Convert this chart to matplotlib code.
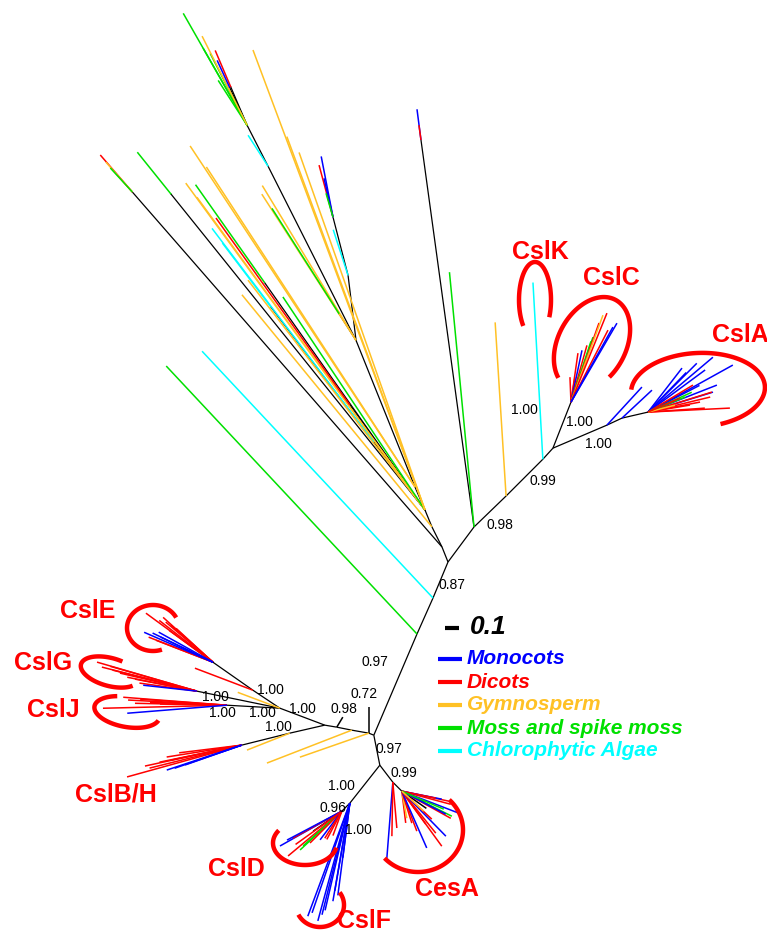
import numpy as np
import matplotlib.pyplot as plt

W, H = 767, 933

COLORS = {'mono': '#0000FF', 'dicot': '#FF0000', 'gymno': '#FFC125',
          'moss': '#00E000', 'algae': '#00FFFF', 'none': 'black'}

LEGEND_NAMES = ['Monocots', 'Dicots', 'Gymnosperm', 'Moss and spike moss',
                'Chlorophytic Algae']
LEGEND_KEYS = ['mono', 'dicot', 'gymno', 'moss', 'algae']

# internal branches: (node, parent, angle in degrees, length; 0.1 = 14 units)
BRANCHES = [
    ('B', 'A', 53.4, 43.6), ('BC1', 'B', 44.0, 44.6), ('BC2', 'BC1', 45.0, 52.0),
    ('C', 'BC2', 47.7, 15.0), ('K1', 'B', 97.8, 390.6), ('Cc', 'C', 68.6, 49.4),
    ('Ca1', 'C', 23.1, 58.7), ('Ca2', 'Ca1', 25.0, 16.6), ('Ca3', 'Ca2', 13.0, 26.7),
    ('N1', 'A', 247.4, 39.0), ('N2', 'N1', 246.0, 39.4), ('D', 'N2', 246.9, 110.0),
    ('H', 'D', 281.3, 30.6), ('P1', 'D', 158.0, 5.4), ('P2', 'P1', 170.0, 17.3),
    ('P3', 'P2', 168.7, 15.3), ('E', 'P3', 170.5, 12.2), ('Bm', 'E', 192.9, 35.9),
    ('Bn', 'Bm', 194.0, 49.5), ('F', 'E', 159.3, 48.0), ('G1', 'F', 146.3, 32.4),
    ('Ge', 'G1', 145.0, 48.8), ('Jn', 'F', 176.8, 53.0), ('Gn', 'F', 168.4, 84.7),
    ('Cs', 'H', 307.4, 21.4), ('Cs2', 'Cs', 315.0, 12.7), ('I', 'H', 231.7, 48.4),
    ('Dn', 'I', 225.0, 11.3), ('T1', 'A', 111.8, 16.2), ('LB1', 'T1', 131.1, 471.0),
    ('T2', 'T1', 116.6, 22.4), ('Tm', 'T2', 112.4, 18.4), ('T3', 'Tm', 113.5, 25.0),
    ('N5', 'T3', 111.9, 158.0), ('L3b', 'N5', 116.8, 195.0), ('L3', 'L3b', 117.1, 46.0),
    ('L5a', 'N5', 97.0, 65.5), ('L5', 'L5a', 104.5, 60.0),
]

# leaves: (angle, length, group[, coloured tip length])
CSLK_LEAVES = [(93.2, 177, 'algae')]
CSLC_LEAVES = [(92.3, 25, 'dicot'), (81, 25, 'dicot'), (81.9, 49.5, 'dicot'),
               (78, 53, 'mono'), (74.3, 59, 'dicot'), (71.8, 64, 'moss'),
               (71.3, 68.6, 'moss'), (70.5, 84, 'dicot'), (69.8, 92.7, 'gymno'),
               (68, 96, 'dicot'), (62.8, 81, 'dicot'), (60.8, 86, 'mono'),
               (59.8, 91.4, 'mono')]
CSLA_LEAVES = [(52.3, 55.6, 'mono'), (46, 55, 'mono'), (45, 69, 'mono'),
               (40.2, 85, 'mono'), (36.4, 71, 'mono'), (29, 97, 'mono'),
               (21.4, 74, 'mono'), (17.1, 68, 'mono'), (27.4, 58, 'mono'),
               (31, 52.5, 'dicot'), (17.4, 67, 'dicot'), (13.6, 64, 'dicot'),
               (2.8, 82, 'dicot'), (10.9, 53, 'dicot'), (9.5, 42.6, 'dicot'),
               (4, 57, 'dicot'), (24.4, 48, 'moss'), (22, 40, 'moss'),
               (14.5, 28, 'gymno'), (23.6, 35, 'dicot')]
CSLA_BASE1 = [(47.4, 51.7, 'mono')]
CSLA_BASE2 = [(43, 41, 'mono')]
CSLE_LEAVES = [(143.8, 83, 'dicot'), (142.1, 68, 'dicot'), (138, 67, 'dicot'),
               (139.6, 62, 'dicot'), (138.6, 56, 'dicot'), (137.4, 50, 'dicot'),
               (144, 54, 'dicot'), (158.7, 69, 'dicot'), (158.9, 61, 'dicot'),
               (156.5, 75, 'mono'), (154.2, 67, 'mono'), (154.3, 58, 'mono'),
               (151, 62, 'mono')]
CSLG_LEAVES = [(163.8, 104, 'dicot'), (165.8, 98, 'dicot'), (164, 90, 'dicot'),
               (166, 87, 'dicot'), (166.8, 79, 'dicot'), (168.7, 71, 'dicot'),
               (169, 63, 'dicot'), (172, 58, 'dicot'), (173.7, 54, 'mono')]
CSLJ_LEAVES = [(175.6, 104, 'dicot'), (181.4, 124, 'dicot'), (177, 99, 'dicot'),
               (178.8, 92, 'dicot'), (176, 87, 'dicot'), (177.8, 77, 'dicot'),
               (179, 67, 'dicot'), (184.6, 100, 'mono')]
CSLBH_LEAVES = [(195.5, 119, 'dicot'), (194, 95, 'dicot'), (191.7, 84, 'dicot'),
                (189, 76, 'dicot'), (192, 72, 'dicot'), (192.2, 99, 'dicot'),
                (187, 63, 'dicot'), (198.4, 79, 'mono'), (199, 71, 'mono'),
                (199.3, 60, 'mono')]
CESA_BASE = [(265.5, 76, 'mono'), (269, 54, 'dicot'), (275, 46, 'dicot')]
CESA_LEAVES = [(277, 32, 'dicot'), (280.5, 27.5, 'gymno'), (287.4, 33.5, 'dicot'),
               (290.6, 42.7, 'dicot'), (306, 40.8, 'dicot'), (293.7, 62, 'mono'),
               (309, 54, 'dicot'), (306, 68, 'dicot'), (314.4, 63, 'mono'),
               (331, 56, 'dicot'), (333.4, 56, 'moss'), (338.9, 61, 'mono'),
               (345, 50.7, 'dicot'), (348, 48, 'dicot'), (348.7, 40.8, 'mono'),
               (348.4, 34.7, 'dicot'), (332.4, 49.6, 'mono'), (317, 41, 'dicot'),
               (336.8, 45.7, 'moss'), (317.7, 29.7, 'gymno'), (325, 30, 'none'),
               (335, 25, 'none')]
CSLF_LEAVES = [(249.6, 120.6, 'mono'), (251, 116, 'mono'), (254.8, 122, 'mono'),
               (256, 115, 'mono'), (257, 110, 'mono'), (260.3, 89, 'mono'),
               (262.6, 93, 'mono'), (260.2, 99.5, 'mono'), (262.7, 55, 'mono')]
CSLD_LEAVES = [(209.4, 71, 'mono'), (219.8, 70, 'dicot'), (208.9, 56, 'dicot'),
               (222.9, 57, 'moss'), (221.9, 52, 'moss'), (225, 45, 'dicot'),
               (232.8, 36, 'mono'), (237.8, 32, 'dicot'), (242, 32, 'dicot'),
               (250, 26, 'dicot'), (207.8, 62, 'mono'), (215.7, 57, 'dicot'),
               (215, 35, 'none')]

# unnamed lineages (top fan and singletons)
K1_TIPS = [(97.4, 31, 'mono'), (97.8, 15, 'dicot')]
B_LEAVES = [(95.5, 256, 'moss')]
BC1_LEAVES = [(93.6, 174, 'gymno')]
N1_LEAVES = [(133.1, 338, 'algae')]
N2_LEAVES = [(133.1, 367, 'moss')]
P1_LEAVES = [(90, 26, 'none'), (199.2, 73, 'gymno')]
P2_LEAVES = [(201.2, 91, 'gymno')]
P3_LEAVES = [(59, 11.7, 'none')]
BM_LEAVES = [(201.6, 46, 'gymno')]
F_LEAVES = [(159.4, 45, 'gymno')]
G1_LEAVES = [(159.2, 62, 'dicot')]
LB1_TIPS = [(130.9, 49, 'dicot'), (131.5, 40, 'gymno'), (132.5, 32.6, 'moss')]
T2_LEAVES = [(129.3, 300, 'gymno')]
TM_LEAVES = [(126.2, 405, 'gymno'), (126.1, 387, 'gymno'), (125.2, 398, 'moss', 120),
             (125.6, 359, 'dicot', 230), (127.1, 353, 'algae', 268),
             (127.2, 335, 'algae', 80), (127.6, 290, 'gymno'), (123.7, 256, 'moss'),
             (128.8, 459, 'moss', 54), (110.5, 491, 'gymno'), (110.3, 398, 'gymno'),
             (109.4, 379, 'gymno')]
T3_LEAVES = [(123.4, 408.5, 'gymno'), (123.1, 382, 'gymno')]
N5_LEAVES = [(121.2, 181, 'gymno'), (122.8, 174, 'gymno'), (122.5, 156.5, 'moss', 125)]
L3B_LEAVES = [(122.8, 37, 'algae')]
L3_LEAVES = [(119.7, 129, 'moss'), (119.7, 89, 'moss'), (117.2, 81, 'moss'),
             (122.8, 53.5, 'moss'), (116.8, 100, 'gymno'), (113.1, 81.5, 'dicot', 40),
             (114.8, 71.6, 'mono', 30)]
L5A_LEAVES = [(108, 48, 'algae')]
L5_LEAVES = [(101, 62, 'mono'), (105, 54, 'dicot'), (103, 40, 'mono'), (106.3, 25, 'moss')]

LEAF_SETS = [
    ('K1', K1_TIPS), ('B', B_LEAVES), ('BC1', BC1_LEAVES), ('BC2', CSLK_LEAVES),
    ('Cc', CSLC_LEAVES), ('Ca1', CSLA_BASE1), ('Ca2', CSLA_BASE2), ('Ca3', CSLA_LEAVES),
    ('N1', N1_LEAVES), ('N2', N2_LEAVES), ('P1', P1_LEAVES), ('P2', P2_LEAVES),
    ('P3', P3_LEAVES), ('Bm', BM_LEAVES), ('Bn', CSLBH_LEAVES), ('F', F_LEAVES),
    ('G1', G1_LEAVES), ('Ge', CSLE_LEAVES), ('Gn', CSLG_LEAVES), ('Jn', CSLJ_LEAVES),
    ('Cs', CESA_BASE), ('Cs2', CESA_LEAVES), ('I', CSLF_LEAVES), ('Dn', CSLD_LEAVES),
    ('LB1', LB1_TIPS), ('T2', T2_LEAVES), ('Tm', TM_LEAVES), ('T3', T3_LEAVES),
    ('N5', N5_LEAVES), ('L3b', L3B_LEAVES), ('L3', L3_LEAVES), ('L5a', L5A_LEAVES),
    ('L5', L5_LEAVES),
]

SUPPORT_LABELS = [('0.98', 500, 525), ('0.99', 543, 481), ('1.00', 524, 410),
                  ('1.00', 579, 422), ('1.00', 598, 444), ('0.87', 452, 585),
                  ('0.97', 375, 662), ('0.72', 364, 694), ('0.98', 344, 709),
                  ('1.00', 302, 709), ('1.00', 270, 690), ('1.00', 215, 697),
                  ('1.00', 222, 713), ('1.00', 262, 713), ('1.00', 278, 727),
                  ('0.97', 389, 749), ('0.99', 404, 773), ('1.00', 341, 786),
                  ('0.96', 333, 808), ('1.00', 358, 830)]

# clade brackets: label, ellipse centre, semi axes, rotation, arc span, label position
CLADES = [
    ('CslK', 535, 300, 16, 38, 0, -27, 223, 540, 252),
    ('CslC', 592, 344, 50, 34, 62, -115, 156, 611, 278),
    ('CslA', 698, 390, 67, 37, 3, -72, 174, 740, 335),
    ('CslE', 153, 628, 26, 23, 0, 27, 290, 88, 611),
    ('CslG', 110, 672, 30, 14, -15, 72, 328, 43, 663),
    ('CslJ', 127, 712, 33, 15, -10, 112, 349, 53, 710),
    ('CslD', 305, 843, 32, 22, 0, 145, 348, 236, 869),
    ('CslF', 320, 905, 24, 22, 0, 206, 395, 364, 921),
    ('CesA', 418, 830, 45, 42, 0, 222, 406, 447, 889),
    ('CslB/H', None, None, 0, 0, 0, 0, 0, 116, 795),
]

ROOT = (448, H - 562)


def step(p, ang, length):
    a = np.radians(ang)
    return (p[0] + length * np.cos(a), p[1] + length * np.sin(a))


fig = plt.figure(figsize=(W / 100, H / 100), dpi=100)
ax = fig.add_axes([0, 0, 1, 1])
ax.set_xlim(0, W)
ax.set_ylim(0, H)
ax.axis('off')

pos = {'A': ROOT}
for name, parent, ang, length in BRANCHES:
    p0 = pos[parent]
    p1 = step(p0, ang, length)
    pos[name] = p1
    ax.plot([p0[0], p1[0]], [p0[1], p1[1]], color='black', lw=0.9,
            solid_capstyle='butt', zorder=2)

for parent, leaves in LEAF_SETS:
    p0 = pos[parent]
    for leaf in leaves:
        ang, length, grp = leaf[:3]
        tip = leaf[3] if len(leaf) > 3 else length
        p_mid = step(p0, ang, length - tip)
        p1 = step(p0, ang, length)
        if tip < length:
            ax.plot([p0[0], p_mid[0]], [p0[1], p_mid[1]], color='black', lw=0.9,
                    zorder=2)
        ax.plot([p_mid[0], p1[0]], [p_mid[1], p1[1]], color=COLORS[grp], lw=1.1,
                solid_capstyle='butt', zorder=3 if grp != 'none' else 2)

for txt, x, y in SUPPORT_LABELS:
    ax.text(x, H - y, txt, fontsize=10, ha='center', va='center',
            family='Liberation Sans', zorder=5)

for lab, cx, cy, a, b, rot, t1, t2, lx, ly in CLADES:
    if cx is not None:
        t = np.radians(np.linspace(t1, t2, 120))
        r = np.radians(rot)
        u, v = a * np.cos(t), b * np.sin(t)
        xs = cx + u * np.cos(r) - v * np.sin(r)
        ys = (H - cy) + u * np.sin(r) + v * np.cos(r)
        ax.plot(xs, ys, color='#FF0000', lw=3.2, solid_capstyle='butt', zorder=4)
    ax.text(lx, H - ly, lab, fontsize=18, fontweight='bold', color='#FF0000',
            ha='center', va='center', family='Liberation Sans', zorder=5)

# scale bar
ax.plot([445, 459], [H - 628, H - 628], color='black', lw=3, solid_capstyle='butt')
ax.text(470, H - 627, '0.1', fontsize=19, fontweight='bold', style='italic',
        ha='left', va='center', family='Liberation Sans')

# legend
for i, (nm, key) in enumerate(zip(LEGEND_NAMES, LEGEND_KEYS)):
    y = H - (659 + 23 * i)
    ax.plot([438, 462], [y, y], color=COLORS[key], lw=3, solid_capstyle='butt')
    ax.text(467, y, nm, fontsize=15, fontweight='bold', style='italic',
            color=COLORS[key], ha='left', va='center', family='Liberation Sans')

fig.savefig('out.png', dpi=100)
